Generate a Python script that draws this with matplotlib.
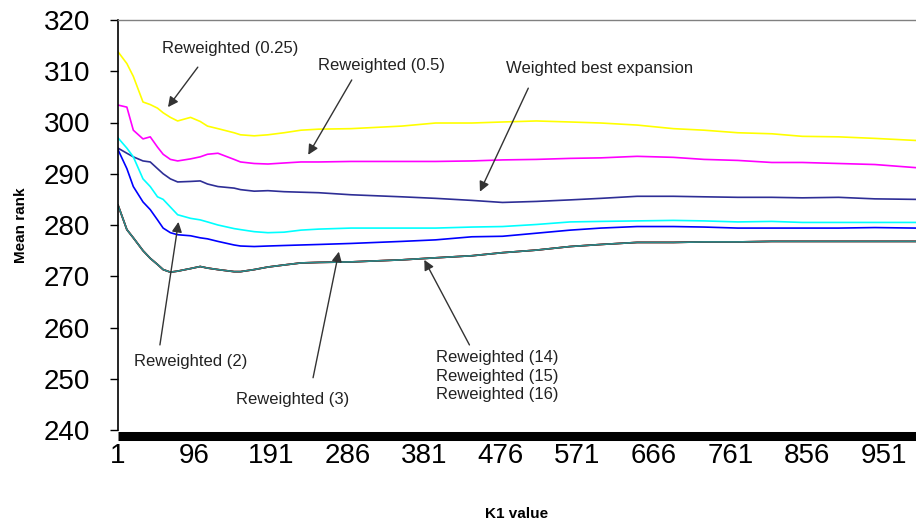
import numpy as np
import matplotlib as mpl
import matplotlib.pyplot as plt

# K1 values sampled along the curves
k1 = [1, 12, 20, 32, 41, 50, 57, 66, 75, 91, 103, 112, 125, 145, 153, 170, 187,
      207, 228, 250, 290, 353, 395, 440, 478, 520, 562, 600, 645, 690, 728, 770,
      812, 850, 895, 940, 990]

rw_025 = [313.8, 311.5, 309.0, 304.0, 303.5, 302.8, 301.9, 301.0, 300.3, 301.0,
          300.2, 299.3, 298.8, 298.0, 297.6, 297.4, 297.6, 298.0, 298.5, 298.7,
          298.8, 299.3, 299.9, 299.9, 300.1, 300.3, 300.1, 299.9, 299.5, 298.8,
          298.5, 298.0, 297.8, 297.3, 297.2, 296.9, 296.5]
rw_05 = [303.4, 303.0, 298.5, 296.8, 297.2, 295.2, 293.8, 292.8, 292.5, 292.9,
         293.3, 293.8, 294.0, 292.8, 292.3, 292.0, 291.9, 292.1, 292.3, 292.3,
         292.4, 292.4, 292.4, 292.5, 292.7, 292.8, 293.0, 293.1, 293.4, 293.2,
         292.8, 292.6, 292.2, 292.2, 292.0, 291.8, 291.2]
wbe = [295.0, 294.0, 293.3, 292.5, 292.3, 291.0, 290.0, 289.0, 288.4, 288.5,
       288.6, 288.0, 287.5, 287.2, 286.9, 286.6, 286.7, 286.5, 286.4, 286.3,
       285.9, 285.5, 285.2, 284.8, 284.4, 284.6, 284.9, 285.2, 285.6, 285.6,
       285.5, 285.4, 285.4, 285.3, 285.4, 285.1, 285.0]
rw_2 = [297.0, 295.0, 293.3, 289.0, 287.5, 285.5, 285.0, 283.5, 282.0, 281.3,
        281.0, 280.6, 280.0, 279.3, 279.1, 278.7, 278.5, 278.6, 279.0, 279.2,
        279.4, 279.4, 279.4, 279.6, 279.7, 280.1, 280.6, 280.7, 280.8, 280.9,
        280.8, 280.6, 280.7, 280.5, 280.5, 280.5, 280.5]
rw_3 = [294.7, 291.0, 287.5, 284.5, 283.0, 281.0, 279.4, 278.5, 278.1, 277.9,
        277.5, 277.3, 276.8, 276.1, 275.9, 275.8, 275.9, 276.0, 276.1, 276.2,
        276.4, 276.8, 277.1, 277.7, 277.8, 278.4, 279.0, 279.4, 279.7, 279.7,
        279.6, 279.4, 279.4, 279.4, 279.4, 279.5, 279.4]
rw_14 = [283.9, 279.1, 277.5, 275.0, 273.5, 272.3, 271.3, 270.8, 271.0, 271.5,
         271.9, 271.6, 271.3, 270.9, 270.9, 271.3, 271.8, 272.2, 272.6, 272.7,
         272.8, 273.2, 273.6, 274.0, 274.6, 275.1, 275.8, 276.2, 276.6, 276.6,
         276.7, 276.7, 276.8, 276.8, 276.8, 276.8, 276.8]
rw_15 = rw_14
rw_16 = rw_14

xticks = [1, 96, 191, 286, 381, 476, 571, 666, 761, 856, 951]

mpl.rcParams['font.family'] = 'Liberation Sans'

fig = plt.figure(figsize=(9.16, 5.29), dpi=100)
ax = fig.add_axes([118 / 916, 1 - 430 / 529, 798 / 916, 410 / 529])

lw = 1.2
ax.plot(k1, rw_025, color='#ffff00', lw=lw)
ax.plot(k1, rw_05, color='#ff00ff', lw=lw)
ax.plot(k1, wbe, color='#2e2e96', lw=lw)
ax.plot(k1, rw_2, color='#00ffff', lw=lw)
ax.plot(k1, rw_3, color='#0000ff', lw=lw)
ax.plot(k1, rw_14, color='#cc0000', lw=lw)
ax.plot(k1, rw_15, color='#660000', lw=lw)
ax.plot(k1, rw_16, color='#2a8a8a', lw=lw)

ax.set_xlim(1, 991)
ax.set_ylim(240, 320)
ax.set_yticks(range(240, 321, 10))
ax.set_xticks(xticks)

ax.spines['right'].set_visible(False)
ax.spines['top'].set_color('#808080')
ax.spines['top'].set_linewidth(1.0)
ax.spines['left'].set_linewidth(1.2)
ax.spines['bottom'].set_linewidth(6.5)
ax.spines['bottom'].set_capstyle('butt')
ax.spines['bottom'].set_position(('outward', 4.5))

ax.tick_params(axis='y', direction='out', length=6, width=1, pad=14, labelsize=20)
ax.tick_params(axis='x', length=0, pad=5, labelsize=20)

ax.set_ylabel('Mean rank', fontsize=11, fontweight='bold', labelpad=11)
ax.set_xlabel('K1 value', fontsize=11, fontweight='bold', labelpad=27)

# annotations: (text, text position, arrow tail, arrow tip)
notes = [
    ('Reweighted (0.25)', (140, 314.5), (100, 310.8), (63, 303.0)),
    ('Reweighted (0.5)', (328, 311.2), (291, 308.3), (237, 293.7)),
    ('Weighted best expansion', (599, 310.6), (510, 306.7), (450, 286.5)),
    ('Reweighted (2)', (91, 253.3), (53, 256.6), (76, 280.6)),
    ('Reweighted (3)', (218, 245.9), (243, 250.2), (275, 274.8)),
    ('Reweighted (14)\nReweighted (15)\nReweighted (16)', (472, 250.5), (437, 256.6), (381, 273.2)),
]
for txt, tpos, tail, tip in notes:
    ax.text(tpos[0], tpos[1], txt, ha='center', va='center', fontsize=12,
            color='#222222', linespacing=1.3)
    ax.annotate('', xy=tip, xytext=tail,
                arrowprops=dict(arrowstyle='-|>', color='#333333', lw=1.0,
                                mutation_scale=15, shrinkA=0, shrinkB=0))

plt.savefig('out.png', dpi=100)
